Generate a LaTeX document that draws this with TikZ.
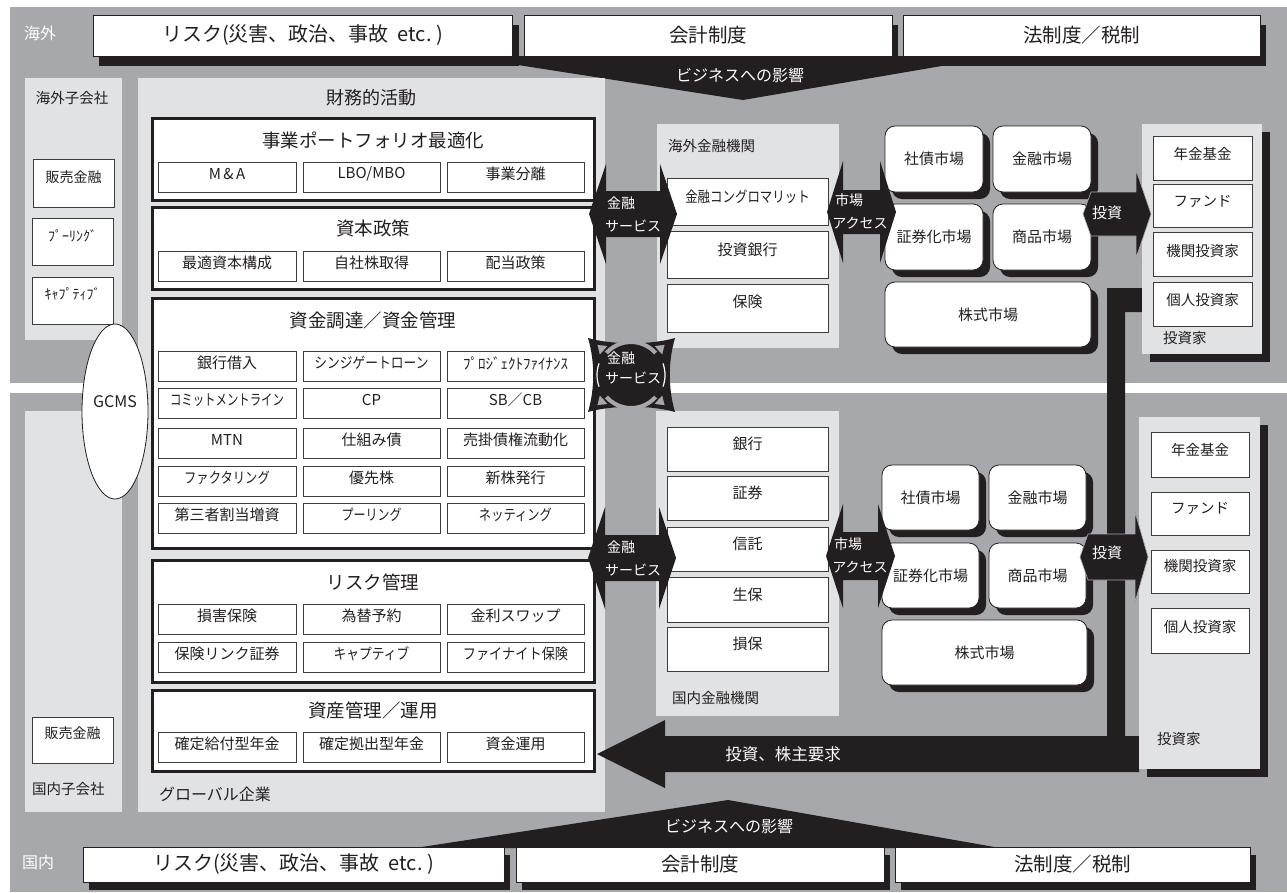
\documentclass[tikz,border=0pt]{standalone}
\usepackage{fontspec}
\usepackage{graphicx}
\setmainfont{Noto Sans CJK JP}
\usetikzlibrary{calc,shapes.geometric,arrows.meta}

\definecolor{bggray}{RGB}{167,168,171}
\definecolor{panelgray}{RGB}{225,226,228}
\definecolor{ink}{RGB}{35,31,32}
\definecolor{edgegray}{RGB}{60,60,60}

\newcommand\fs[1]{\fontsize{#1pt}{#1pt}\selectfont}
\tikzset{
  every node/.style={inner sep=0pt, outer sep=0pt},
  panel/.style={fill=panelgray, draw=none},
  topbox/.style={fill=white, draw=ink, line width=0.8pt},
  sect/.style={fill=white, draw=ink, line width=3pt},
  sub/.style={fill=white, draw=edgegray, line width=0.9pt},
  mktbox/.style={fill=white, draw=ink, line width=0.8pt, rounded corners=10pt},
  txt/.style={text=ink},
  wtxt/.style={text=white},
  darkfill/.style={fill=ink},
}
\newcommand\cbox[6]{\node[#2, minimum width={#5-#3}, minimum height={#6-#4}] (#1) at ({(#3+#5)/2},{(#4+#6)/2}) {};}
\newcommand\tbox[8]{\cbox{#1}{#2}{#3}{#4}{#5}{#6}\node[txt] (#1-t) at ($(#1.center)+(0,#7)$) {#8};}
\newcommand\sbx[5]{\tbox{#1}{sub}{#2}{#4}{#3}{#4+30}{-3}{\fs{15}#5}}
\newcommand\mktnode[6]{\fill[ink, rounded corners=10pt] ({#2+7},{#3+7}) rectangle ({#4+7},{#5+7});
  \cbox{#1}{mktbox}{#2}{#3}{#4}{#5}\node[txt] (#1-t) at (#1.center) {\fs{15}#6};}
\newcommand\dblarr[6]{\fill[ink] (#1,#3) -- ({#1+#6},{#3-#4}) -- ({#1+#6},{#3-#5}) -- ({#2-#6},{#3-#5}) -- ({#2-#6},{#3-#4}) -- (#2,#3) -- ({#2-#6},{#3+#4}) -- ({#2-#6},{#3+#5}) -- ({#1+#6},{#3+#5}) -- ({#1+#6},{#3+#4}) -- cycle;}
\newcommand\invarr[6]{\fill[ink, draw=bggray, line width=0.6pt] (#1,#4) -- ({#1+8},{#4-#6}) -- (#2,{#4-#6}) -- (#2,{#4-#5}) -- (#3,#4) -- (#2,{#4+#5}) -- (#2,{#4+#6}) -- ({#1+8},{#4+#6}) -- cycle;}

\begin{document}
\begin{tikzpicture}[x=1pt,y=-1pt]
\useasboundingbox (0,0) rectangle (1287,892);
\fill[white] (0,0) rectangle (1287,892);
\fill[bggray] (10,7) rectangle (1287,383);
\fill[bggray] (10,393) rectangle (1287,892);

% ---------- top band ----------
\node[wtxt] (kaigai) at (40,33) {\fs{16}海外};
\fill[ink] (99,25) rectangle (519,66);
\fill[ink] (530,25) rectangle (898,66);
\fill[ink] (909,25) rectangle (1266,66);
\fill[ink] (460,56) -- (1000,56) -- (743,100) -- cycle;
\tbox{tRisk}{topbox}{93}{15}{512}{56}{0}{\fs{20}リスク(災害、政治、事故\ \ etc.\ )}
\tbox{tAcc}{topbox}{524}{15}{892}{56}{0}{\fs{19.5}会計制度}
\tbox{tLaw}{topbox}{903}{15}{1260}{56}{0}{\fs{19.5}法制度／税制}
\node[wtxt] (tImpact) at (740,75) {\fs{16}ビジネスへの影響};

% ---------- bottom band ----------
\node[wtxt] (kokunai) at (38,862) {\fs{16}国内};
\fill[ink] (89,855) rectangle (510,890);
\fill[ink] (522,855) rectangle (890,890);
\fill[ink] (901,855) rectangle (1256,890);
\fill[ink] (415,848) -- (1000,848) -- (728,800) -- cycle;
\tbox{bRisk}{topbox}{83}{847}{504}{882}{0}{\fs{20}リスク(災害、政治、事故\ \ etc.\ )}
\tbox{bAcc}{topbox}{516}{847}{884}{882}{0}{\fs{19.5}会計制度}
\tbox{bLaw}{topbox}{895}{847}{1250}{882}{0}{\fs{19.5}法制度／税制}
\node[wtxt] (bImpact) at (729,826) {\fs{16}ビジネスへの影響};

% ---------- subsidiaries ----------
\cbox{oSub}{panel}{25}{78}{122}{340}
\node[txt] (oSubL) at (72,98) {\fs{14.5}海外子会社};
\tbox{oHan}{sub}{33}{159}{114}{207}{-6}{\fs{14}販売金融}
\tbox{oPool}{sub}{32}{218}{113}{265}{-6}{\fs{14}ﾌﾟｰﾘﾝｸﾞ}
\tbox{oCap}{sub}{32}{277}{113}{324}{-7}{\fs{14}ｷｬﾌﾟﾃｨﾌﾞ}

\cbox{dSub}{panel}{25}{411}{122}{812}
\tbox{dHan}{sub}{32}{717}{113}{763}{-7}{\fs{14}販売金融}
\node[txt, anchor=west] (dSubL) at (32,789) {\fs{14.5}国内子会社};

% ---------- global company ----------
\cbox{glob}{panel}{138}{78}{605}{812}
\node[txt] (zaimu) at (371,98) {\fs{18}財務的活動};
\node[txt, anchor=west] (globL) at (159,794) {\fs{16}グローバル企業};

\cbox{s1}{sect}{152}{118}{594}{200}
\node[txt] (s1-t) at (373,140) {\fs{18.5}事業ポートフォリオ最適化};
\sbx{s1a}{158}{296}{162}{M\,\&\,A}
\sbx{s1b}{303}{440}{162}{LBO/MBO}
\sbx{s1c}{447}{584}{162}{事業分離}

\cbox{s2}{sect}{152}{207}{594}{289}
\node[txt] (s2-t) at (373,228) {\fs{18.5}資本政策};
\sbx{s2a}{158}{296}{251}{最適資本構成}
\sbx{s2b}{303}{440}{251}{自社株取得}
\sbx{s2c}{447}{584}{251}{配当政策}

\cbox{s3}{sect}{152}{298}{594}{548}
\node[txt] (s3-t) at (373,320) {\fs{18.5}資金調達／資金管理};
\sbx{s3a1}{158}{296}{351}{銀行借入}
\sbx{s3b1}{303}{440}{351}{\scalebox{0.85}[1]{シンジゲートローン}}
\sbx{s3c1}{447}{584}{351}{ﾌﾟﾛｼﾞｪｸﾄﾌｧｲﾅﾝｽ}
\sbx{s3a2}{158}{296}{388}{\scalebox{0.76}[1]{コミットメントライン}}
\sbx{s3b2}{303}{440}{388}{CP}
\sbx{s3c2}{447}{584}{388}{SB／CB}
\sbx{s3a3}{158}{296}{428}{MTN}
\sbx{s3b3}{303}{440}{428}{仕組み債}
\sbx{s3c3}{447}{584}{428}{売掛債権流動化}
\sbx{s3a4}{158}{296}{466}{\scalebox{0.82}[1]{ファクタリング}}
\sbx{s3b4}{303}{440}{466}{優先株}
\sbx{s3c4}{447}{584}{466}{新株発行}
\sbx{s3a5}{158}{296}{503}{第三者割当増資}
\sbx{s3b5}{303}{440}{503}{\scalebox{0.8}[1]{プーリング}}
\sbx{s3c5}{447}{584}{503}{\scalebox{0.82}[1]{ネッティング}}

\cbox{s4}{sect}{152}{560}{594}{682}
\node[txt] (s4-t) at (373,582) {\fs{18.5}リスク管理};
\sbx{s4a1}{158}{296}{604}{損害保険}
\sbx{s4b1}{303}{440}{604}{為替予約}
\sbx{s4c1}{447}{584}{604}{金利スワップ}
\sbx{s4a2}{158}{296}{642}{保険リンク証券}
\sbx{s4b2}{303}{440}{642}{\scalebox{0.85}[1]{キャプティブ}}
\sbx{s4c2}{447}{584}{642}{\scalebox{0.88}[1]{ファイナイト保険}}

\cbox{s5}{sect}{152}{690}{594}{771}
\node[txt] (s5-t) at (373,710) {\fs{18.5}資産管理／運用};
\sbx{s5a}{158}{296}{732}{確定給付型年金}
\sbx{s5b}{303}{440}{732}{確定拠出型年金}
\sbx{s5c}{447}{584}{732}{資金運用}

% GCMS
\node[ellipse, draw=ink, fill=white, line width=0.8pt, minimum width=66, minimum height=175] (gcms) at (115,411.5) {};
\node[txt] (gcms-t) at (115,402) {\fs{16}GCMS};

% ---------- financial institutions ----------
\cbox{oFin}{panel}{657}{124}{839}{348}
\node[txt, anchor=west] (oFinL) at (668,146) {\fs{14.5}海外金融機関};
\tbox{oConglo}{sub}{667}{178}{828}{225}{-5}{\fs{15}\scalebox{0.83}[1]{金融コングロマリット}}
\tbox{oIB}{sub}{667}{231}{828}{278}{-5}{\fs{15}投資銀行}
\tbox{oIns}{sub}{667}{284}{828}{332}{-6}{\fs{15}保険}

\cbox{dFin}{panel}{656}{411}{839}{716}
\tbox{dBank}{sub}{667}{427}{828}{471}{-5}{\fs{15}銀行}
\tbox{dSec}{sub}{667}{476}{828}{520}{-5}{\fs{15}証券}
\tbox{dTrust}{sub}{667}{527}{828}{571}{-5}{\fs{15}信託}
\tbox{dLife}{sub}{667}{577}{828}{622}{-5}{\fs{15}生保}
\tbox{dNon}{sub}{667}{627}{828}{671}{-5}{\fs{15}損保}
\node[txt, anchor=west] (dFinL) at (672,698) {\fs{14.5}国内金融機関};

% ---------- markets ----------
\mktnode{oBond}{885}{126}{983}{192}{社債市場}
\mktnode{oMoney}{993}{126}{1091}{192}{金融市場}
\mktnode{oSecu}{885}{204}{983}{270}{証券化市場}
\mktnode{oComm}{993}{204}{1091}{270}{商品市場}
\mktnode{oStock}{885}{282}{1091}{347}{株式市場}

\mktnode{dBond}{882}{465}{979}{530}{社債市場}
\mktnode{dMoney}{989}{465}{1086}{530}{金融市場}
\mktnode{dSecu}{882}{543}{979}{608}{証券化市場}
\mktnode{dComm}{989}{543}{1086}{608}{商品市場}
\mktnode{dStock}{882}{620}{1087}{685}{株式市場}

% ---------- big L arrow ----------
\fill[ink] (1142,288) -- (1107,288) -- (1107,736) -- (665,736) -- (665,720) -- (597,754) -- (665,788) -- (665,772) -- (1139,772) -- (1139,736) -- (1125,736) -- (1125,312) -- (1142,312) -- cycle;
\node[wtxt] (demand) at (783,754) {\fs{16.5}投資、株主要求};

% ---------- investors ----------
\fill[ink] (1150,132) rectangle (1270,362);
\cbox{oInv}{panel}{1142}{124}{1262}{354}
\tbox{oPen}{sub}{1153}{136}{1252}{180}{-4}{\fs{14.5}年金基金}
\tbox{oFund}{sub}{1153}{184}{1252}{227}{-4}{\fs{14.5}ファンド}
\tbox{oInst}{sub}{1153}{232}{1252}{276}{-3}{\fs{14.5}機関投資家}
\tbox{oInd}{sub}{1153}{282}{1252}{326}{-4}{\fs{14.5}個人投資家}
\node[txt, anchor=west] (oInvL) at (1163,338) {\fs{14.5}投資家};

\fill[ink] (1147,425) rectangle (1268,777);
\cbox{dInv}{panel}{1139}{417}{1260}{769}
\tbox{dPen}{sub}{1151}{432}{1249}{477}{-5}{\fs{14.5}年金基金}
\tbox{dFund}{sub}{1151}{492}{1249}{535}{-5}{\fs{14.5}ファンド}
\tbox{dInst}{sub}{1151}{550}{1249}{593}{-5}{\fs{14.5}機関投資家}
\tbox{dInd}{sub}{1151}{608}{1249}{653}{-4}{\fs{14.5}個人投資家}
\node[txt, anchor=west] (dInvL) at (1157,739) {\fs{14.5}投資家};

% ---------- arrows ----------
\dblarr{589}{677}{214}{50}{23}{17}
\node[wtxt] (fs1a) at (621,203) {\fs{14}金融};
\node[wtxt] (fs1b) at (633,226) {\fs{14}サービス};
\dblarr{588}{676}{558}{51}{23}{17}
\node[wtxt] (fs2a) at (621,547) {\fs{14}金融};
\node[wtxt] (fs2b) at (633,570) {\fs{14}サービス};

\dblarr{827}{896}{212}{51}{22}{16}
\node[wtxt] (ma1a) at (849,200) {\fs{14}市場};
\node[wtxt] (ma1b) at (860,223) {\fs{14}アクセス};
\dblarr{826}{895}{556}{52}{24}{17}
\node[wtxt] (ma2a) at (848,544) {\fs{14}市場};
\node[wtxt] (ma2b) at (860,567) {\fs{14}アクセス};

\invarr{1083}{1136}{1151}{214}{44}{22}
\node[wtxt] (inv1) at (1107,213) {\fs{15}投資};
\invarr{1080}{1135}{1148}{557}{45}{23}
\node[wtxt] (inv2) at (1107,553) {\fs{15}投資};

% ---------- four-way financial service symbol ----------
\coordinate (blobc) at (631,375);
\fill[ink] (588,338) .. controls (612,345) and (651,345) .. (675,338) .. controls (668,362) and (668,388) .. (675,412) .. controls (651,405) and (612,405) .. (588,412) .. controls (595,388) and (595,362) .. (588,338) -- cycle;
\draw[bggray, line width=4pt] ($(blobc)+(222:33)$) arc[start angle=222, end angle=318, radius=33];
\draw[bggray, line width=4pt] ($(blobc)+(42:33)$) arc[start angle=42, end angle=138, radius=33];
\foreach \a in {222,318,42,138} {
  \draw[bggray, line width=0.1pt, -{Triangle[length=8pt,width=11pt]}] ($(blobc)+(\a:31)$) -- ($(blobc)+(\a:45)$);
}
\draw[white, line width=1.2pt] ($(blobc)+(160:34)$) arc[start angle=160, end angle=200, radius=34];
\draw[white, line width=1.2pt] ($(blobc)+(-20:34)$) arc[start angle=-20, end angle=20, radius=34];
\node[wtxt] (fs3a) at (621,358) {\fs{14}金融};
\node[wtxt] (fs3b) at (633,378) {\fs{14}サービス};
\end{tikzpicture}
\end{document}
